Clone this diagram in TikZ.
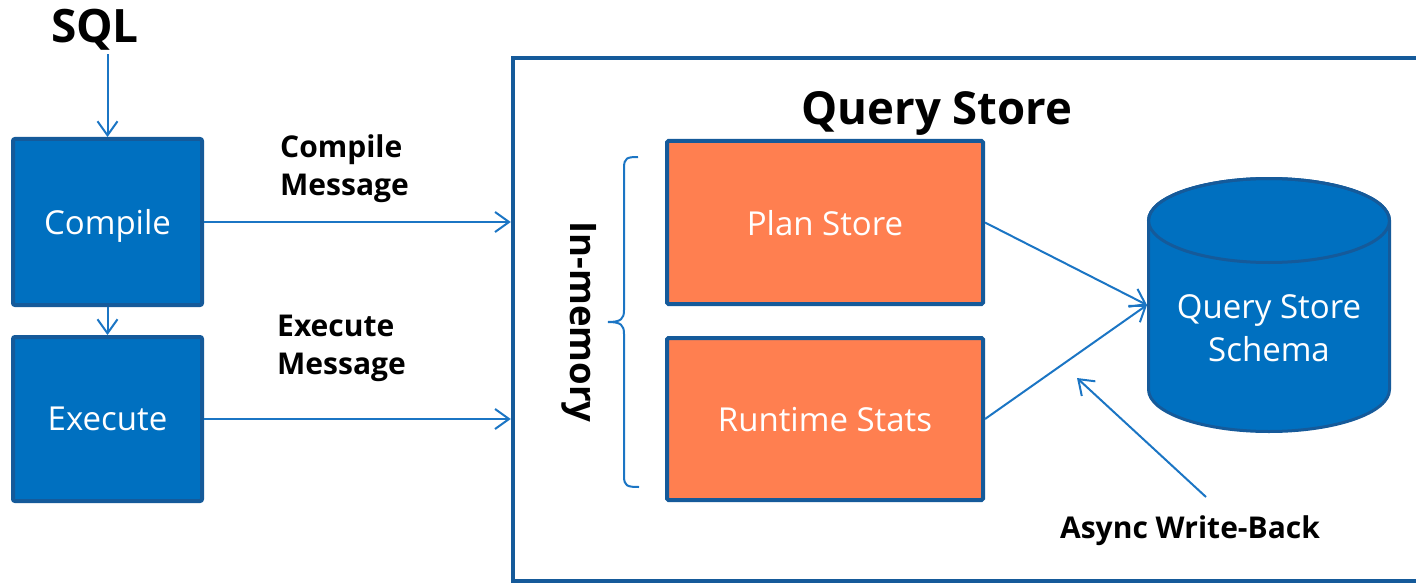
\documentclass[tikz,border=0pt]{standalone}
\usepackage{fontspec}
\setmainfont{Open Sans}
\usetikzlibrary{arrows.meta}
\definecolor{boxblue}{HTML}{0070C0}
\definecolor{edgeblue}{HTML}{155A9A}
\definecolor{arrowblue}{HTML}{1B75C4}
\definecolor{coralfill}{HTML}{FF7F50}
\begin{document}
\begin{tikzpicture}[x=1pt,y=-1pt,
  boxtext/.style={text=white, font=\fontsize{33}{43}\selectfont},
  bluebox/.style={boxtext, text depth=0pt, draw=edgeblue, line width=4pt, fill=boxblue, rounded corners=2pt, minimum width=189pt, inner sep=0pt},
  orangebox/.style={boxtext, text depth=0pt, draw=edgeblue, line width=4pt, fill=coralfill, rounded corners=1.5pt, minimum width=316pt, inner sep=0pt},
  conn/.style={draw=arrowblue, line width=2pt, -{Straight Barb[length=14pt,width=20pt]}},
  lbl/.style={font=\bfseries\fontsize{30}{38}\selectfont, inner sep=0pt, align=left},
]
\useasboundingbox (0,0) rectangle (1416,583);
\clip (0,0) rectangle (1416,583);

% container
\node[draw=edgeblue, line width=4.5pt, minimum width=917pt, minimum height=523.5pt, inner sep=0pt] (qs) at (971.5,319.75) {};
\node[font=\bfseries\fontsize{45.5}{50}\selectfont, anchor=base, inner sep=0pt] (title) at (937,125) {Query Store};

% left column
\node[font=\bfseries\fontsize{46}{50}\selectfont, anchor=base] (sql) at (95,43) {SQL};
\node[bluebox, minimum height=166pt] (comp) at (107.5,222) {Compile};
\node[bluebox, minimum height=164pt] (exec) at (107.5,419) {Execute};

\node[lbl, anchor=north west] (cmsg) at (280,135) {Compile\\Message};
\node[lbl, anchor=north west] (emsg) at (277,315) {Execute\\Message};

% in-memory stores
\node[orangebox, minimum height=163pt] (plan) at (825,222.5) {Plan Store};
\node[orangebox, minimum height=162pt] (rt) at (825,419) {Runtime Stats};

\node[font=\bfseries\fontsize{36.5}{40}\selectfont, rotate=-90, anchor=base, inner sep=0pt] (inmem) at (570,322) {In-memory};
\draw[arrowblue, line width=2pt] (638,157) .. controls (627,157) and (624,158) .. (624,168) -- (624,310) .. controls (624,319) and (621,322) .. (608,322) .. controls (621,322) and (624,325) .. (624,334) -- (624,476) .. controls (624,486) and (627,487) .. (639,487);

% database cylinder
\node[minimum width=241pt, minimum height=253pt, inner sep=0pt, outer sep=1.5pt] (db) at (1269,305) {};
\filldraw[draw=edgeblue, fill=boxblue, line width=3pt] (1148.5,220.5) -- (1148.5,389.5) arc[start angle=180, end angle=360, x radius=120.5pt, y radius=42pt] -- (1389.5,220.5) arc[start angle=0, end angle=180, x radius=120.5pt, y radius=42pt] -- cycle;
\draw[draw=edgeblue, line width=3pt] (1269,220.5) ellipse [x radius=120.5pt, y radius=42pt];
\node[boxtext, align=center, inner sep=0pt] (dbtext) at (1269,328) {Query Store\\Schema};

\node[lbl, anchor=base] (awb) at (1190,538) {Async Write-Back};
\coordinate (wbstart) at (1206,497);
\coordinate (wbend) at (1077,378);

% connectors
\draw[conn] (sql.south -| comp.north) -- (comp.north);
\draw[conn] (comp.south) -- (exec.north);
\draw[conn] (comp.east) -- (comp.east -| qs.west);
\draw[conn] (exec.east) -- (exec.east -| qs.west);
\draw[conn] (plan.east) -- (db.west);
\draw[conn] (rt.east) -- (db.west);
\draw[conn] (wbstart) -- (wbend);
\end{tikzpicture}
\end{document}
